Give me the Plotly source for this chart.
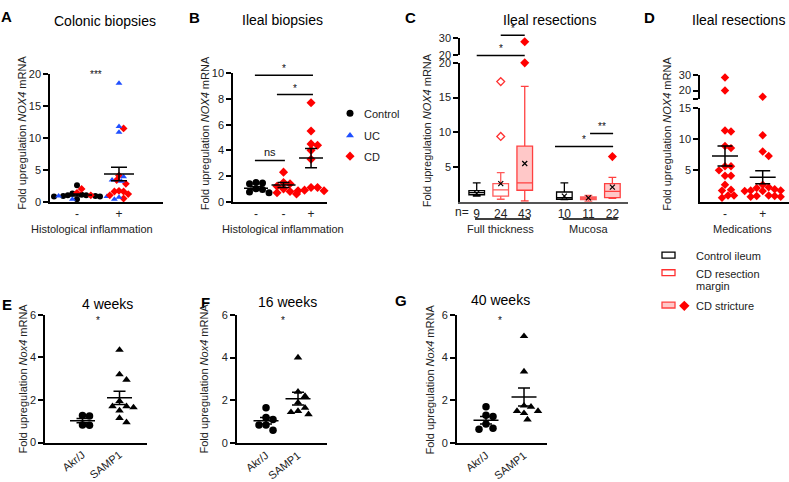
import plotly.graph_objects as go

W, H = 789, 482

# ---------------- DATA ----------------
# Panel A: colonic biopsies (groups: histological inflammation - / +)
A_ticks = ['-', '+']
A_control = [[2.6, 1.3, 1.1, 1.0, 1.0, 0.9, 0.9, 0.8, 0.8, 0.4], []]
A_uc = [[0.9, 0.8, 0.8, 0.4], [18.6, 11.8, 10.9, 3.9, 3.4, 3.2, 0.7, 0.4]]
A_cd = [[2.0, 1.4, 1.0], [11.5, 4.1, 3.4, 2.8, 1.7, 1.6, 1.6, 1.2, 1.0, 0.5]]
A_mean = [1.05, 4.35]
A_sem = [0.15, 1.05]

# Panel B: ileal biopsies
B_ticks = ['-', '-', '+']
B_control = [[1.5, 1.45, 1.4, 1.0, 0.95, 0.75, 0.7], [], []]
B_cd = [[], [2.3, 1.5, 1.4, 1.2, 1.0, 0.8, 0.7, 0.6],
        [7.7, 5.5, 4.5, 4.4, 4.0, 3.3, 1.1, 1.1, 0.9, 0.85, 0.85]]
B_mean = [1.05, 1.3, 3.4]
B_sem = [0.12, 0.2, 0.75]

# Panel C: ileal resections, box plots (Control ileum, CD resection margin, CD stricture)
C_groups = ['Full thickness', 'Mucosa']
C_n = [[9, 24, 43], [10, 11, 22]]
C_low = [[0.8, 0.35, 0.1], [0.3, 0.05, 0.5]]
C_q1 = [[1.0, 0.8, 1.65], [0.35, 0.3, 0.6]]
C_med = [[1.3, 1.7, 2.7], [0.6, 0.5, 1.5]]
C_q3 = [[1.6, 2.6, 8.0], [1.4, 0.7, 2.6]]
C_high = [[2.7, 4.2, 16.6], [2.7, 0.9, 3.5]]
C_mean = [[1.2, 2.6, 5.5], [0.8, 0.55, 2.1]]
C_out_margin = [[9.4, 17.3], []]
C_out_stricture = [[20.0, 28.0], [6.5]]

# Panel D: ileal resections by medication
D_ticks = ['-', '+']
D_cd = [[28.4, 20.0, 11.2, 11.35, 8.9, 8.55, 5.66, 5.66, 5.0, 4.15, 4.15, 2.7, 1.77, 1.9, 1.0, 1.0, 0.62],
        [16.0, 10.6, 8.0, 7.3, 2.7, 2.3, 2.2, 2.0, 1.8, 1.8, 1.7, 1.7, 1.0, 0.9, 0.9, 0.8, 0.8]]
D_mean = [7.3, 3.9]
D_sem = [1.6, 1.05]

# Panels E-G: mice
M_ticks = ['Akr/J', 'SAMP1']
E_akr = [1.27, 1.25, 0.83, 0.81]
E_samp = [4.35, 3.2, 2.95, 1.95, 1.7, 1.7, 1.65, 1.5, 1.15, 0.95]
E_mean = [1.03, 2.1]
E_sem = [0.1, 0.31]
F_akr = [1.65, 1.2, 1.1, 0.85, 0.85, 0.6]
F_samp = [4.0, 2.4, 2.2, 1.9, 1.65, 1.5, 1.45, 1.35]
F_mean = [1.05, 2.08]
F_sem = [0.15, 0.3]
G_akr = [1.7, 1.3, 1.25, 0.9, 0.7, 0.65]
G_samp = [5.0, 3.35, 1.75, 1.7, 1.5, 1.5, 1.4, 1.1]
G_mean = [1.07, 2.16]
G_sem = [0.17, 0.42]

# ---------------- HELPERS ----------------
fig = go.Figure()
layout = dict(width=W, height=H, margin=dict(l=0, r=0, t=0, b=0, pad=0),
              paper_bgcolor='white', plot_bgcolor='rgba(0,0,0,0)', showlegend=False,
              boxmode='overlay',
              font=dict(family='Liberation Sans, Arial, sans-serif', size=11, color='#222'))
annotations = []
shapes = []


def xa(i):
    return 'x' if i == 1 else f'x{i}'


def ya(i):
    return 'y' if i == 1 else f'y{i}'


def make_axes(i, xpx, ypx, xr, yr, xkw=None, ykw=None):
    base = dict(showgrid=False, zeroline=False, showline=True, linecolor='black', linewidth=1.5,
                ticks='outside', ticklen=5, tickwidth=1.5, tickcolor='black',
                tickfont=dict(size=11, color='#222'), fixedrange=True)
    x = dict(base, domain=[xpx[0] / W, xpx[1] / W], range=xr, anchor=ya(i))
    y = dict(base, domain=[1 - ypx[1] / H, 1 - ypx[0] / H], range=yr, anchor=xa(i))
    x.update(xkw or {})
    y.update(ykw or {})
    layout['xaxis' if i == 1 else f'xaxis{i}'] = x
    layout['yaxis' if i == 1 else f'yaxis{i}'] = y
    return (xpx[1] - xpx[0]) / (xr[1] - xr[0]), (ypx[1] - ypx[0]) / (yr[1] - yr[0])


def swarm(vals, ppx, ppy, d):
    placed = []
    res = [0.0] * len(vals)
    order = sorted(range(len(vals)), key=lambda k: -vals[k])
    cands = [0.0]
    for j in range(1, 40):
        cands += [j * d * 0.5, -j * d * 0.5]
    for k in order:
        y = vals[k] * ppy
        c = 0.0
        for c in cands:
            if all((c - a) ** 2 + (y - b) ** 2 >= d * d for a, b in placed):
                break
        placed.append((c, y))
        res[k] = c / ppx
    return res


STY = {'Control': dict(symbol='circle', color='black'),
       'UC': dict(symbol='triangle-up', color='#1f4fff'),
       'CD': dict(symbol='diamond', color='#ff0000'),
       'Akr': dict(symbol='circle', color='black'),
       'SAMP': dict(symbol='triangle-up', color='black')}


def dots(i, series, ppx, ppy, size, d, i_up=None, cut=None, ppy_up=None):
    ng = len(series[0][1])
    for g in range(ng):
        vals, tags = [], []
        for si, (st, data) in enumerate(series):
            vals += data[g]
            tags += [si] * len(data[g])
        lo = [k for k, v in enumerate(vals) if cut is None or v <= cut]
        hi = [k for k in range(len(vals)) if k not in lo]
        offs = [0.0] * len(vals)
        for idx, pp in ((lo, ppy), (hi, ppy_up)):
            if not idx:
                continue
            o = swarm([vals[k] for k in idx], ppx, pp, d)
            for k, oo in zip(idx, o):
                offs[k] = oo
        for si, (st, data) in enumerate(series):
            for idx, ax in ((lo, i), (hi, i_up)):
                ks = [k for k in idx if tags[k] == si]
                if not ks:
                    continue
                fig.add_trace(go.Scatter(
                    x=[g + offs[k] for k in ks], y=[vals[k] for k in ks], mode='markers',
                    marker=dict(symbol=STY[st]['symbol'], color=STY[st]['color'], size=size,
                                line=dict(width=0)),
                    xaxis=xa(ax), yaxis=ya(ax), cliponaxis=False, hoverinfo='skip'))


def mean_sem(i, means, sems, ppx, hw_px, cap_px):
    xs, ys = [], []
    hw, cw = hw_px / ppx, cap_px / ppx
    for g, (m, s) in enumerate(zip(means, sems)):
        xs += [g - hw, g + hw, None, g, g, None, g - cw, g + cw, None, g - cw, g + cw, None]
        ys += [m, m, None, m - s, m + s, None, m + s, m + s, None, m - s, m - s, None]
    fig.add_trace(go.Scatter(x=xs, y=ys, mode='lines', line=dict(color='black', width=1.5),
                             xaxis=xa(i), yaxis=ya(i), cliponaxis=False, hoverinfo='skip'))


def bracket(i, x0, x1, y, label, size=10, dy=0.0):
    fig.add_trace(go.Scatter(x=[x0, x1], y=[y, y], mode='lines', line=dict(color='black', width=1.5),
                             xaxis=xa(i), yaxis=ya(i), cliponaxis=False, hoverinfo='skip'))
    annotations.append(dict(text=label, x=(x0 + x1) / 2, y=y + dy, xref=xa(i), yref=ya(i),
                            showarrow=False, yanchor='bottom', font=dict(size=size, color='#111')))


def ann(text, xpx, ypx, size=11, angle=0, anchor='center', bold=False, color='#222'):
    annotations.append(dict(text=f'<b>{text}</b>' if bold else text, x=xpx / W, y=1 - ypx / H,
                            xref='paper', yref='paper', showarrow=False, textangle=angle,
                            xanchor=anchor, yanchor='middle', font=dict(size=size, color=color)))


# ---------------- PANEL A ----------------
pxA, pyA = make_axes(1, (50, 163), (70, 200.7), [-0.643, 2.048], [0, 20],
                     xkw=dict(tickvals=[0, 1], ticktext=A_ticks, ticks='', tickfont=dict(size=12)),
                     ykw=dict(tickvals=[0, 5, 10, 15, 20]))
dots(1, [('Control', A_control), ('CD', A_cd), ('UC', A_uc)], pxA, pyA, 6, 4.6)
mean_sem(1, A_mean, A_sem, pxA, 15, 8)
annotations.append(dict(text='***', x=0.45, y=20, xref='x', yref='y', showarrow=False,
                        font=dict(size=10, color='#111')))

# ---------------- PANEL B ----------------
pxB, pyB = make_axes(2, (233, 327), (69, 200.7), [-0.836, 2.58], [0, 10],
                     xkw=dict(tickvals=[0, 1, 2], ticktext=B_ticks, ticks='', tickfont=dict(size=12)),
                     ykw=dict(tickvals=[0, 2, 4, 6, 8, 10]))
dots(2, [('Control', B_control), ('CD', B_cd)], pxB, pyB, 7, 6.5)
mean_sem(2, B_mean, B_sem, pxB, 12, 6)
bracket(2, -0.04, 1.05, 3.2, 'ns', size=11, dy=0.05)
bracket(2, -0.04, 2.07, 9.85, '*', size=10, dy=-0.1)
bracket(2, 0.76, 2.07, 8.35, '*', size=10, dy=-0.1)

# ---------------- PANEL C ----------------
C_start = [0, 3.65]
pos = [C_start[g] + j for g in range(2) for j in range(3)]
pxC, pyC = make_axes(3, (460, 628), (58.3, 200.7), [-0.696, 6.3], [0, 20],
                     xkw=dict(tickvals=pos, ticktext=[str(n) for g in C_n for n in g], ticks='',
                              linecolor='#555', linewidth=2, tickfont=dict(size=12)),
                     ykw=dict(tickvals=[5, 10, 15, 20]))
make_axes(4, (460, 628), (33.3, 50), [-0.696, 6.3], [20, 30],
          xkw=dict(visible=False), ykw=dict(tickvals=[20, 30]))
# overlay for brackets (same vertical scale as lower C axis)
make_axes(10, (460, 628), (15, 200.7), [-0.696, 6.3], [0, 185.7 / 7.12],
          xkw=dict(visible=False), ykw=dict(visible=False))

box_line = ['black', '#ff5a5a', '#ff4040']
box_fill = ['white', 'white', '#ffc8c8']
for g in range(2):
    for j in range(3):
        p = C_start[g] + j
        fig.add_trace(go.Box(x=[p], q1=[C_q1[g][j]], median=[C_med[g][j]], q3=[C_q3[g][j]],
                             lowerfence=[C_low[g][j]], upperfence=[C_high[g][j]],
                             width=0.65, whiskerwidth=0.5, boxpoints=False,
                             line=dict(color=box_line[j], width=1.3), fillcolor=box_fill[j],
                             xaxis='x3', yaxis='y3', hoverinfo='skip'))
    fig.add_trace(go.Scatter(x=[C_start[g] + j for j in range(3)], y=C_mean[g], mode='markers',
                             marker=dict(symbol='x-thin', size=5, line=dict(width=1.2, color='black')),
                             xaxis='x3', yaxis='y3', hoverinfo='skip'))
    if C_out_margin[g]:
        fig.add_trace(go.Scatter(x=[C_start[g] + 1] * len(C_out_margin[g]), y=C_out_margin[g],
                                 mode='markers', cliponaxis=False,
                                 marker=dict(symbol='diamond-open', size=6, color='#ff3030',
                                             line=dict(width=1.3, color='#ff3030')),
                                 xaxis='x3', yaxis='y3', hoverinfo='skip'))
    lo = [v for v in C_out_stricture[g] if v <= 20]
    hi = [v for v in C_out_stricture[g] if v > 20]
    for vals, ax in ((lo, 3), (hi, 4)):
        if vals:
            fig.add_trace(go.Scatter(x=[C_start[g] + 2] * len(vals), y=vals, mode='markers',
                                     cliponaxis=False,
                                     marker=dict(symbol='diamond', size=7, color='#ff0000'),
                                     xaxis=xa(ax), yaxis=ya(ax), hoverinfo='skip'))

bracket(10, 0, 2.0, 21.07, '*', size=10, dy=-0.15)
bracket(10, 1.0, 2.0, 23.97, '*', size=10, dy=-0.15)
bracket(10, 3.26, 5.68, 7.96, '*', size=10, dy=-0.15)
bracket(10, 4.72, 5.68, 9.83, '**', size=10, dy=-0.15)
for g in range(2):
    shapes.append(dict(type='line', xref='x3', yref='paper', x0=C_start[g] - 0.07, x1=C_start[g] + 2.22,
                       y0=1 - 218.5 / H, y1=1 - 218.5 / H, line=dict(color='black', width=1.5)))
    annotations.append(dict(text=C_groups[g], x=C_start[g] + 1, y=1 - 229 / H, xref='x3', yref='paper',
                            showarrow=False, yanchor='middle', font=dict(size=11, color='#222')))
ann('n=', 461.5, 211, size=12)

# ---------------- PANEL D ----------------
pxD, pyD = make_axes(5, (700, 789), (104.3, 200.7), [-0.663, 1.698], [0, 15],
                     xkw=dict(tickvals=[0, 1], ticktext=D_ticks, ticks='', tickfont=dict(size=12)),
                     ykw=dict(tickvals=[5, 10, 15]))
_, pyDu = make_axes(6, (700, 789), (70.7, 95), [-0.663, 1.698], [14.8, 30],
                    xkw=dict(visible=False),
                    ykw=dict(tickvals=[14.85, 20, 30], ticktext=['', '20', '30']))
dots(5, [('CD', D_cd)], pxD, pyD, 6.5, 6, i_up=6, cut=15, ppy_up=pyDu)
mean_sem(5, D_mean, D_sem, pxD, 13, 7.5)
annotations.append(dict(text='p= 0.066', x=0.45, y=41.7, xref='x6', yref='y6', showarrow=False,
                        font=dict(size=11, color='#333')))

# ---------------- PANELS E, F, G ----------------
mouse = [(7, (45, 147), (316.7, 447.7), [-1.014, 1.743], E_akr, E_samp, E_mean, E_sem, 0.42),
         (8, (236.7, 326.7), (316.7, 448.3), [-0.916, 1.897], F_akr, F_samp, F_mean, F_sem, 0.52),
         (9, (456.7, 547), (316.7, 448.3), [-0.771, 1.605], G_akr, G_samp, G_mean, G_sem, 0.37)]
for i, xp, yp, xr, akr, samp, mn, se, sx in mouse:
    ppx, ppy = make_axes(i, xp, yp, xr, [0, 6],
                         xkw=dict(tickvals=[0, 1], ticktext=M_ticks, ticks='', tickangle=-38,
                                  tickfont=dict(size=11)),
                         ykw=dict(tickvals=[0, 2, 4, 6]))
    dots(i, [('Akr', [akr, []]), ('SAMP', [[], samp])], ppx, ppy, 7.5, 7)
    mean_sem(i, mn, se, ppx, 12.5, 6)
    annotations.append(dict(text='*', x=sx, y=5.72, xref=xa(i), yref=ya(i), showarrow=False,
                            font=dict(size=10, color='#111')))

# pixel overlay axis for legend glyphs
layout['xaxis11'] = dict(domain=[0, 1], range=[0, W], visible=False, anchor='y11', fixedrange=True)
layout['yaxis11'] = dict(domain=[0, 1], range=[H, 0], visible=False, anchor='x11', fixedrange=True)

# legend A/B
leg1 = [('Control', 'circle', 'black', 110), ('UC', 'triangle-up', '#1f4fff', 132.7), ('CD', 'diamond', '#ff0000', 154)]
for name, sym, col, yy in leg1:
    fig.add_trace(go.Scatter(x=[350], y=[yy], mode='markers', marker=dict(symbol=sym, color=col, size=7),
                             xaxis='x11', yaxis='y11', hoverinfo='skip'))
    ann(name, 361.5, yy + 1, size=11, anchor='left')

# legend C
leg2 = [('Control ileum', 'black', 'white', 255.5), ('CD resection<br>margin', '#ff3030', 'white', 273.5),
        ('CD stricture', '#ff4040', '#ffc8c8', 306.7)]
for name, lc, fc, yy in leg2:
    shapes.append(dict(type='rect', xref='paper', yref='paper', x0=662 / W, x1=675 / W,
                       y0=1 - (yy + 3) / H, y1=1 - (yy - 3) / H, line=dict(color=lc, width=1.3),
                       fillcolor=fc))
ann('Control ileum', 694, 256.5, size=11, anchor='left')
ann('CD resection', 694, 275, size=11, anchor='left')
ann('margin', 694, 287, size=11, anchor='left')
ann('CD stricture', 694, 308, size=11, anchor='left')
fig.add_trace(go.Scatter(x=[684.3], y=[307.5], mode='markers',
                         marker=dict(symbol='diamond', color='#ff0000', size=8),
                         xaxis='x11', yaxis='y11', hoverinfo='skip'))

# ---------------- TEXT ----------------
for letter, xx, yy in [('A', 6.5, 11), ('B', 194, 12), ('C', 410, 12), ('D', 649, 12),
                       ('E', 7, 306), ('F', 205, 304), ('G', 401, 302)]:
    ann(letter, xx, yy, size=15, bold=True, color='black')
for t, xx, yy in [('Colonic biopsies', 105, 15), ('Ileal biopsies', 282.5, 14),
                  ('Ileal resections', 549, 14), ('Ileal resections', 738, 14),
                  ('4 weeks', 107, 306), ('16 weeks', 287, 304), ('40 weeks', 500, 302)]:
    ann(t, xx, yy, size=14, color='black')
ytitle_h = 'Fold upregulation <i>NOX4</i> mRNA'
ytitle_m = 'Fold upregulation <i>Nox4</i> mRNA'
for t, xx, yy in [(ytitle_h, 22.5, 130.5), (ytitle_h, 205, 130.5), (ytitle_h, 427, 127.5),
                  (ytitle_h, 667, 131), (ytitle_m, 23, 382), (ytitle_m, 204, 382), (ytitle_m, 430, 383)]:
    ann(t, xx, yy, size=11, angle=-90)
ann('Histological inflammation', 92, 228.5, size=11)
ann('Histological inflammation', 282.5, 228.5, size=11)
ann('Medications', 742, 228.5, size=11)

layout['annotations'] = annotations
layout['shapes'] = shapes
fig.update_layout(**layout)
fig.write_html('out.html', config={'displayModeBar': False},
               post_script="document.body.style.margin='0';document.body.style.overflow='hidden';")
